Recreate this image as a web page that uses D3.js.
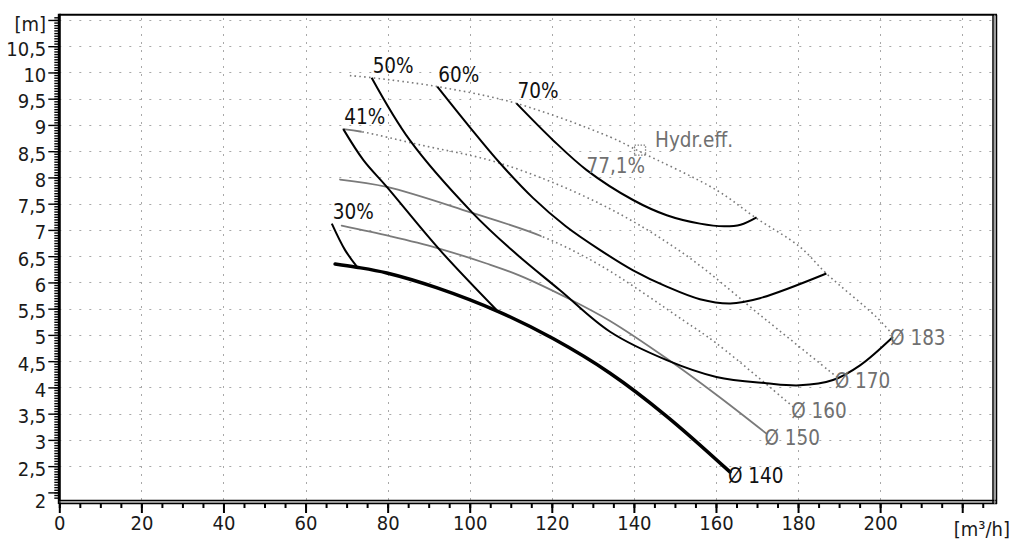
<!DOCTYPE html>
<html>
<head>
<meta charset="utf-8">
<script src="https://cdn.jsdelivr.net/npm/d3@7"></script>
<style>
  body { margin: 0; background: #fff; }
  svg { display: block; font-family: "DejaVu Sans Condensed", "DejaVu Sans", sans-serif; font-stretch: condensed; }
</style>
</head>
<body>
<svg id="chart" width="1013" height="540"></svg>
<script>
// axis labels
const xTicks = [0, 20, 40, 60, 80, 100, 120, 140, 160, 180, 200];
const yTicks = [2, 2.5, 3, 3.5, 4, 4.5, 5, 5.5, 6, 6.5, 7, 7.5, 8, 8.5, 9, 9.5, 10, 10.5];
const xGrid = [20, 40, 60, 80, 100, 120, 140, 160, 180, 200, 220];
const yGrid = [2.5, 3, 3.5, 4, 4.5, 5, 5.5, 6, 6.5, 7, 7.5, 8, 8.5, 9, 9.5, 10, 10.5, 11];

// impeller curves [Q m3/h, H m]
const d140 = [[67.2, 6.35], [72.4, 6.29], [79.8, 6.18], [91.9, 5.90], [107.4, 5.43], [120.3, 4.93], [134.2, 4.27], [148.0, 3.45], [163.4, 2.39]];
const d150 = [[68.8, 7.08], [80.6, 6.88], [91.9, 6.66], [104.1, 6.36], [112.2, 6.13], [124.4, 5.68], [134.1, 5.27], [148.0, 4.55], [160.1, 3.86], [172.3, 3.12]];
const d160 = [[68.4, 7.96], [79.8, 7.82], [100.0, 7.34], [117.5, 6.88], [131.7, 6.33], [152.0, 5.28], [160.1, 4.84], [178.8, 3.63]];
const d170 = [[69.2, 8.92], [73.7, 8.87], [87.9, 8.62], [107.4, 8.27], [131.7, 7.50], [151.9, 6.56], [172.3, 5.28], [189.4, 4.20]];
const d183 = [[70.8, 9.94], [76.1, 9.90], [92.1, 9.73], [111.4, 9.41], [134.2, 8.77], [141.5, 8.49], [160.1, 7.76], [169.9, 7.22], [180.4, 6.68], [186.9, 6.17], [199.1, 5.34], [202.9, 5.02]];
const diaNames = ["Ø 140", "Ø 150", "Ø 160", "Ø 170", "Ø 183"];
const diaSolidUntil = [999, 999, 117.5, 73.7, 0];

// iso-efficiency curves
const e30 = [[66.4, 7.12], [69.6, 6.62], [72.6, 6.29]];
const e41 = [[69.2, 8.92], [74.1, 8.33], [79.8, 7.82], [92.7, 6.62], [106.6, 5.47]];
const e50 = [[76.1, 9.90], [85.4, 8.71], [100.5, 7.34], [110.2, 6.62], [122.0, 5.85], [134.2, 5.06], [148.0, 4.52], [160.1, 4.20], [172.3, 4.08], [180.4, 4.04], [188.5, 4.14], [195.1, 4.42], [203.1, 4.96]];
const e60 = [[92.1, 9.73], [100.0, 8.96], [107.4, 8.27], [115.4, 7.61], [123.4, 7.07], [131.7, 6.62], [139.8, 6.23], [148.0, 5.92], [156.1, 5.68], [163.5, 5.60], [170.7, 5.70], [186.9, 6.17]];
const e70 = [[111.4, 9.41], [120.3, 8.71], [128.5, 8.14], [139.8, 7.57], [148.0, 7.28], [156.1, 7.12], [162.0, 7.07], [166.0, 7.10], [169.9, 7.24]];
const effNames = ["30%", "41%", "50%", "60%", "70%"];

const bep = [141.5, 8.52];
const bepLabel = "77,1%";

const svg = d3.select("#chart");
const width = 1013;
const height = 540;
const plot = { left: 59.3, right: 993, top: 14.7, bottom: 500 };

svg.append("rect").attr("width", width).attr("height", height).attr("fill", "#fff");

const x = d3.scaleLinear().domain([0, 227.5]).range([plot.left, plot.right]);
const y = d3.scaleLinear().domain([1.855, 11.1]).range([plot.bottom, plot.top]);

const fmt = (v) => String(v).replace(".", ",");

// grid
const grid = svg.append("g").attr("stroke", "#a8a8a8").attr("stroke-width", 1);
grid.selectAll("line.v").data(xGrid).enter().append("line")
  .attr("x1", (d) => Math.round(x(d)) + 0.5).attr("x2", (d) => Math.round(x(d)) + 0.5)
  .attr("y1", plot.bottom).attr("y2", plot.top)
  .attr("stroke-dasharray", "2,6");
grid.selectAll("line.h").data(yGrid).enter().append("line")
  .attr("x1", plot.left).attr("x2", plot.right)
  .attr("y1", (d) => Math.round(y(d)) + 0.5).attr("y2", (d) => Math.round(y(d)) + 0.5)
  .attr("stroke-dasharray", "2,8");

const line = d3.line().x((d) => x(d[0])).y((d) => y(d[1])).curve(d3.curveCatmullRom.alpha(0.5));

// clip paths for solid / dotted parts
const defs = svg.append("defs");
function clip(id, q0, q1) {
  defs.append("clipPath").attr("id", id).append("rect")
    .attr("x", x(q0)).attr("y", 0).attr("width", Math.max(0, x(q1) - x(q0))).attr("height", height);
}

const dias = [d140, d150, d160, d170, d183];
const diaStroke = ["#000", "#7a7a7a", "#7a7a7a", "#7a7a7a", "#7a7a7a"];
const diaWidth = [3.5, 1.8, 1.8, 1.8, 1.8];
const curves = svg.append("g").attr("fill", "none");

dias.forEach((pts, i) => {
  const solidEnd = Math.min(diaSolidUntil[i], 230);
  clip(`s${i}`, 0, solidEnd);
  clip(`d${i}`, solidEnd, 230);
  curves.append("path").datum(pts).attr("d", line)
    .attr("stroke", diaStroke[i]).attr("stroke-width", diaWidth[i])
    .attr("stroke-linecap", "round")
    .attr("clip-path", `url(#s${i})`);
  curves.append("path").datum(pts).attr("d", line)
    .attr("stroke", "#7a7a7a").attr("stroke-width", 1.6)
    .attr("stroke-dasharray", "1.6,3.2")
    .attr("clip-path", `url(#d${i})`);
});

const effs = [e30, e41, e50, e60, e70];
effs.forEach((pts) => {
  curves.append("path").datum(pts).attr("d", line)
    .attr("stroke", "#000").attr("stroke-width", 2);
});

// labels
const labels = svg.append("g").attr("font-size", 20.5);
dias.forEach((pts, i) => {
  const end = pts[pts.length - 1];
  labels.append("text")
    .attr("x", x(end[0]) - 2).attr("y", y(end[1]) + 11)
    .attr("fill", i === 0 ? "#111" : "#707070")
    .text(diaNames[i]);
});
effs.forEach((pts, i) => {
  const start = pts[0];
  labels.append("text")
    .attr("x", x(start[0]) + 1).attr("y", y(start[1]) - 5)
    .attr("fill", "#111")
    .text(effNames[i]);
});

svg.append("rect")
  .attr("x", x(bep[0]) - 5.5).attr("y", y(bep[1]) - 5).attr("width", 11).attr("height", 10)
  .attr("fill", "none").attr("stroke", "#808080").attr("stroke-width", 1.3).attr("stroke-dasharray", "1.5,1.5");
labels.append("text")
  .attr("x", x(bep[0]) + 15).attr("y", y(bep[1]) - 3)
  .attr("fill", "#707070").text("Hydr.eff.");
labels.append("text")
  .attr("x", x(bep[0]) + 5).attr("y", y(bep[1]) + 23).attr("text-anchor", "end")
  .attr("fill", "#707070").text(bepLabel);

// axes
const axisFont = 20;
const xAxis = svg.append("g").attr("transform", `translate(0,${plot.bottom + 3})`);
xAxis.call(d3.axisBottom(x).tickValues(d3.range(0, 226, 5)).tickSize(5).tickFormat(""));
xAxis.append("g").call(d3.axisBottom(x).tickValues([...xTicks, 220]).tickSize(10).tickFormat((d) => (d > 200 ? "" : d)));
xAxis.selectAll(".domain").remove();
xAxis.selectAll("line").attr("stroke", "#000").attr("stroke-width", 2);
xAxis.selectAll("text").attr("font-size", axisFont).attr("fill", "#1a1a1a").attr("dy", "1.35em").attr("y", 0);

const yAxis = svg.append("g").attr("transform", `translate(${plot.left - 1},0)`);
yAxis.call(d3.axisLeft(y).tickValues(d3.range(1.9, 11.06, 0.05)).tickSize(4).tickFormat(""));
yAxis.append("g").call(d3.axisLeft(y).tickValues([...yTicks, 11]).tickSize(10).tickFormat((d) => (d > 10.5 ? "" : fmt(d))));
yAxis.selectAll(".domain").remove();
yAxis.selectAll("line").attr("stroke", "#000").attr("stroke-width", 1.4);
yAxis.selectAll("text").attr("font-size", axisFont).attr("fill", "#1a1a1a").attr("x", -12)
  .attr("dy", (d) => (d === 2 ? "0.75em" : "0.45em"));
svg.selectAll("g[font-family]").attr("font-family", null);

// units
svg.append("text").attr("x", 46).attr("y", 31).attr("text-anchor", "end")
  .attr("font-size", axisFont).attr("fill", "#1a1a1a").text("[m]");
svg.append("text").attr("x", 1010).attr("y", 536).attr("text-anchor", "end")
  .attr("font-size", axisFont).attr("fill", "#1a1a1a").text("[m³/h]");

// frame
const frame = svg.append("g").attr("fill", "none");
frame.append("line").attr("x1", plot.left).attr("x2", plot.right + 4).attr("y1", plot.top).attr("y2", plot.top).attr("stroke", "#000").attr("stroke-width", 2);
frame.append("line").attr("x1", plot.left).attr("x2", plot.left).attr("y1", plot.top - 1).attr("y2", plot.bottom + 4).attr("stroke", "#000").attr("stroke-width", 3);
frame.append("line").attr("x1", plot.left).attr("x2", plot.right + 4).attr("y1", plot.bottom + 0.5).attr("y2", plot.bottom + 0.5).attr("stroke", "#000").attr("stroke-width", 1.5);
frame.append("line").attr("x1", plot.left).attr("x2", plot.right + 4).attr("y1", plot.bottom + 2).attr("y2", plot.bottom + 2).attr("stroke", "#888").attr("stroke-width", 1.2);
frame.append("line").attr("x1", plot.left).attr("x2", plot.right + 4).attr("y1", plot.bottom + 3.5).attr("y2", plot.bottom + 3.5).attr("stroke", "#000").attr("stroke-width", 1.5);
frame.append("line").attr("x1", plot.right).attr("x2", plot.right).attr("y1", plot.top).attr("y2", plot.bottom + 4).attr("stroke", "#000").attr("stroke-width", 1.5);
frame.append("line").attr("x1", plot.right + 1.8).attr("x2", plot.right + 1.8).attr("y1", plot.top).attr("y2", plot.bottom + 4).attr("stroke", "#888").attr("stroke-width", 1.2);
frame.append("line").attr("x1", plot.right + 3.5).attr("x2", plot.right + 3.5).attr("y1", plot.top).attr("y2", plot.bottom + 4).attr("stroke", "#000").attr("stroke-width", 1.5);
</script>
</body>
</html>
